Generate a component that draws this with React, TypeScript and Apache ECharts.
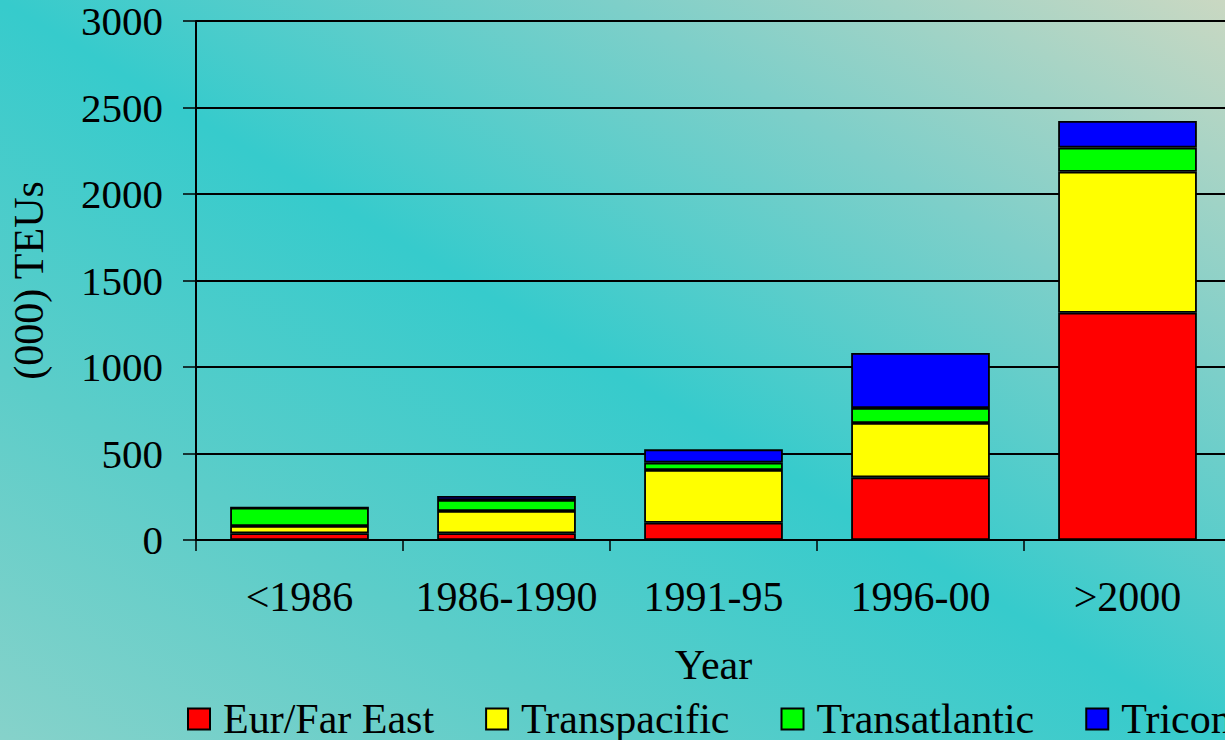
import React, { useEffect, useRef } from "react";
import * as echarts from "echarts";

const categories = ["<1986", "1986-1990", "1991-95", "1996-00", ">2000"];
const eurFarEast = [39, 39, 100, 362, 1314];
const transpacific = [42, 129, 305, 314, 815];
const transatlantic = [106, 63, 42, 87, 139];
const tricontinental = [0, 23, 77, 318, 154];
const yTicks = { min: 0, max: 3000, interval: 500 };

const FONT = "'Liberation Serif', 'Times New Roman', serif";

export default function App() {
  const ref = useRef<HTMLDivElement>(null);
  useEffect(() => {
    if (!ref.current) return;
    const chart = echarts.init(ref.current, null, { renderer: "svg" });
    const mk = (name: string, data: number[], color: string) => ({
      name,
      type: "bar",
      stack: "total",
      data,
      barCategoryGap: "33%",
      itemStyle: { color, borderColor: "#000", borderWidth: 1.8 },
      emphasis: { disabled: true },
    });
    chart.setOption({
      animation: false,
      backgroundColor: "transparent",
      textStyle: { fontFamily: FONT, color: "#000" },
      grid: {
        left: 196,
        top: 21,
        width: 1035,
        height: 519,
        containLabel: false,
        outerBoundsMode: "none",
      },
      legend: {
        left: 182,
        top: 693,
        itemWidth: 22,
        itemHeight: 21,
        itemGap: 51,
        icon: "rect",
        textStyle: {
          fontFamily: FONT,
          fontSize: 42,
          lineHeight: 30,
          color: "#000",
          padding: [0, 0, 0, 8],
        },
        data: ["Eur/Far East", "Transpacific", "Transatlantic", "Tricontinental"],
      },
      xAxis: {
        type: "category",
        data: categories,
        boundaryGap: true,
        name: "Year",
        nameLocation: "middle",
        nameGap: 104,
        nameTextStyle: { fontFamily: FONT, fontSize: 42, color: "#000" },
        axisLine: { lineStyle: { color: "#000", width: 2 } },
        axisTick: {
          show: true,
          inside: false,
          length: 11,
          alignWithLabel: false,
          lineStyle: { color: "#000", width: 1.5 },
        },
        axisLabel: {
          fontFamily: FONT,
          fontSize: 42,
          color: "#000",
          margin: 36,
          interval: 0,
        },
        splitLine: { show: false },
      },
      yAxis: {
        type: "value",
        min: yTicks.min,
        max: yTicks.max,
        interval: yTicks.interval,
        name: "(000) TEUs",
        nameLocation: "middle",
        nameGap: 146,
        nameRotate: 90,
        nameTextStyle: { fontFamily: FONT, fontSize: 42, color: "#000" },
        axisLine: { show: true, lineStyle: { color: "#000", width: 2 } },
        axisTick: {
          show: true,
          inside: false,
          length: 13,
          lineStyle: { color: "#000", width: 1.5 },
        },
        axisLabel: {
          fontFamily: FONT,
          fontSize: 41,
          lineHeight: 30,
          color: "#000",
          margin: 33,
          formatter: (v: number) => String(v),
        },
        splitLine: { show: true, lineStyle: { color: "#000", width: 2 } },
      },
      series: [
        mk("Eur/Far East", eurFarEast, "#FF0000"),
        mk("Transpacific", transpacific, "#FFFF00"),
        mk("Transatlantic", transatlantic, "#00FF00"),
        mk("Tricontinental", tricontinental, "#0000FF"),
      ],
    });
    return () => chart.dispose();
  }, []);
  return (
    <div
      style={{
        position: "fixed",
        left: 0,
        top: 0,
        width: 1225,
        height: 740,
        overflow: "hidden",
        background:
          "linear-gradient(to top right, #86d2ca 0%, #5ccdc9 25%, #36cbcc 50%, #7ecfc9 75%, #cad8c2 100%)",
      }}
    >
      <div ref={ref} style={{ width: 1500, height: 740 }} />
    </div>
  );
}
